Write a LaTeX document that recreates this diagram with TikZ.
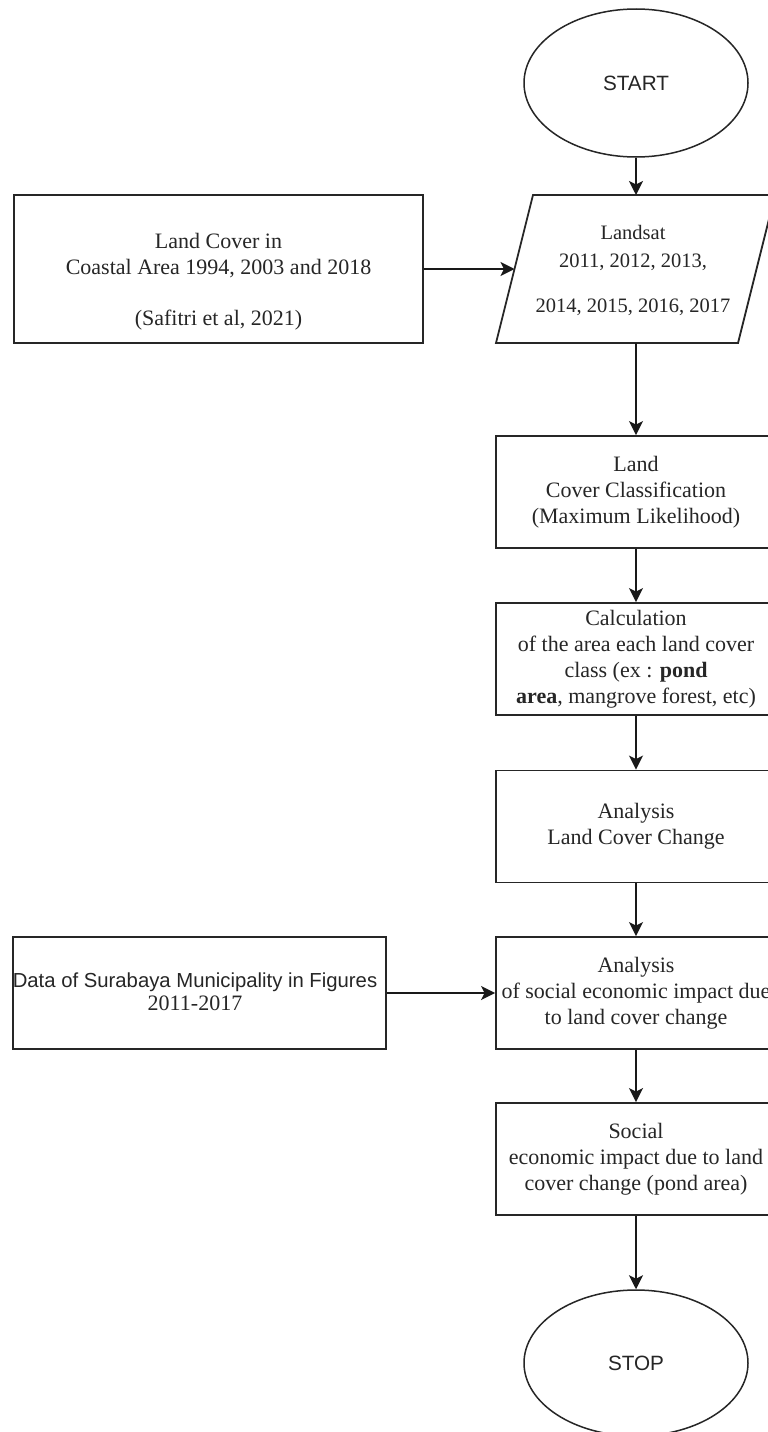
\documentclass[tikz,border=0pt]{standalone}
\usepackage{fontspec}
\setmainfont{Liberation Serif}
\newfontfamily\arialfont{Liberation Sans}
\usetikzlibrary{shapes.geometric,arrows.meta}
\begin{document}
\begin{tikzpicture}[x=1pt,y=-1pt,
  shapeline/.style={draw=black!85, line width=1.8pt},
  box/.style={shapeline, minimum width=280pt, minimum height=112pt, inner sep=0pt,
    align=center, font=\fontsize{22}{26}\selectfont, text=black!85},
  srcbox/.style={shapeline, inner sep=0pt},
  txt/.style={align=center, font=\fontsize{22}{26}\selectfont, text=black!85, inner sep=0pt},
  oval/.style={ellipse, draw=black!85, line width=1.5pt, minimum width=224pt, minimum height=148pt,
    inner sep=0pt, text=black!85, font=\arialfont\fontsize{20.7}{24}\selectfont},
  arr/.style={-{Stealth[length=14pt,width=14pt,inset=3.5pt]}, line width=1.8pt, draw=black!90}]
\useasboundingbox (0,0) rectangle (768,1432);
\clip (0,0) rectangle (768,1432);
\fill[white] (0,0) rectangle (768,1432);

% START
\node[oval] (start) at (636,83) {START};

% Landsat parallelogram
\draw[shapeline] (496,343) -- (533,195) -- (775,195) -- (738,343) -- cycle;
\coordinate (lsN) at (636,195);
\coordinate (lsS) at (636,343);
\coordinate (lsW) at (514.5,269);
\node[txt, font=\fontsize{20.5}{25}\selectfont] (lstxt) at (633,270)
  {Landsat\\[3pt]2011, 2012, 2013,\\[20pt]2014, 2015, 2016, 2017};

% left source box 1
\node[srcbox, minimum width=409pt, minimum height=148pt] (src1) at (218.5,269) {};
\node[txt] (src1t) at (218.5,282)
  {Land Cover in\\Coastal Area 1994, 2003 and 2018\\[25pt](Safitri et al, 2021)};

% process boxes
\node[box] (lcc) at (636,492) {Land\\Cover Classification\\(Maximum Likelihood)};
\node[box] (calc) at (636,659) {Calculation\\of the area each land cover\\class (ex : \textbf{pond}\\\textbf{area}, mangrove forest, etc)};
\node[box] (alcc) at (636,826.5) {Analysis\\Land Cover Change};
\node[box] (asoc) at (636,993) {Analysis\\of social economic impact due\\to land cover change};
\node[box] (soc) at (636,1159) {Social\\economic impact due to land\\cover change (pond area)};

% left source box 2
\node[srcbox, minimum width=373pt, minimum height=112pt] (data) at (199.5,993) {};
\node[txt, font=\fontsize{22}{23}\selectfont] (datat) at (195,992)
  {{\arialfont\fontsize{20.3}{23}\selectfont Data of Surabaya Municipality in Figures}\\2011-2017};

% STOP
\node[oval, minimum height=146pt] (stop) at (636,1363) {STOP};

% connectors
\draw[arr] (start.south) -- (lsN);
\draw[arr] (src1.east) -- (lsW);
\draw[arr] (lsS) -- (lcc.north);
\draw[arr] (lcc.south) -- (calc.north);
\draw[arr] (calc.south) -- (alcc.north);
\draw[arr] (alcc.south) -- (asoc.north);
\draw[arr] (data.east) -- (asoc.west);
\draw[arr] (asoc.south) -- (soc.north);
\draw[arr] (soc.south) -- (stop.north);
\end{tikzpicture}
\end{document}
